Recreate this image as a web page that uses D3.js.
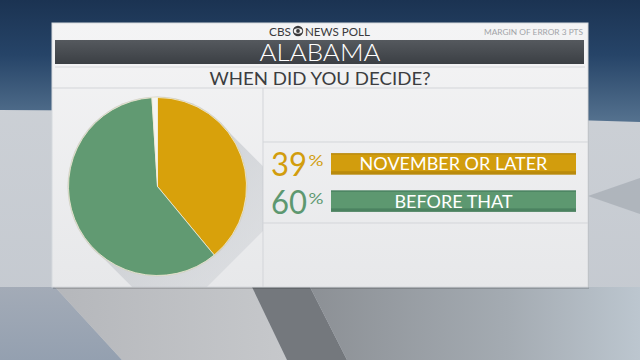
<!DOCTYPE html>
<html>
<head>
<meta charset="utf-8">
<script src="https://cdn.jsdelivr.net/npm/d3@7"></script>
<style>
  html, body { margin: 0; padding: 0; background: #222; }
  svg { display: block; }
</style>
</head>
<body>
<div id="chart"></div>
<script>
// poll values
const categories = ["NOVEMBER OR LATER", "BEFORE THAT"];
const values = [39, 60];
const undecided = 1;
const sliceColors = ["#d8a10b", "#619a72", "#f4f4f2"];
const barColors = ["#d29d0d", "#5d9870"];
const barShade = ["#b98a0c", "#4b8260"];

const W = 640, H = 360;
const svg = d3.select("#chart").append("svg")
    .attr("width", W)
    .attr("height", H);

const defs = svg.append("defs");

function grad(id, stops, x2, y2) {
    const g = defs.append("linearGradient").attr("id", id)
        .attr("x1", 0).attr("y1", 0).attr("x2", x2).attr("y2", y2);
    stops.forEach(s => g.append("stop").attr("offset", s[0]).attr("stop-color", s[1]));
}
const poly = pts => pts.map(p => p.join(",")).join(" ");

// studio background
grad("bg", [["0%", "#cfd3d8"], ["100%", "#c3c8cf"]], 0, 1);
svg.append("rect").attr("width", W).attr("height", H).attr("fill", "url(#bg)");

grad("sky", [["0%", "#1b3352"], ["45%", "#264468"], ["100%", "#55728f"]], 0, 1);
svg.append("polygon")
    .attr("points", poly([[0, 0], [640, 0], [640, 122], [320, 112], [0, 110]]))
    .attr("fill", "url(#sky)");

// right side wedge
svg.append("polygon")
    .attr("points", poly([[588, 196], [640, 178], [640, 214]]))
    .attr("fill", "#a9afb7").attr("opacity", 0.8);

// floor shapes
grad("floorL", [["0%", "#a3abb7"], ["100%", "#94a0b0"]], 0, 1);
grad("floorM", [["0%", "#b5b7bb"], ["100%", "#c6c8cb"]], 1, 0);
grad("floorR", [["0%", "#8c9095"], ["60%", "#a4abb2"], ["100%", "#bcc6cf"]], 1, 0);
const floor = [
    {pts: [[0, 287], [55, 287], [122, 360], [0, 360]], fill: "url(#floorL)"},
    {pts: [[55, 287], [252, 287], [287, 360], [122, 360]], fill: "url(#floorM)"},
    {pts: [[252, 287], [310, 287], [347, 360], [287, 360]], fill: "#74787d"},
    {pts: [[310, 287], [640, 287], [640, 360], [347, 360]], fill: "url(#floorR)"}
];
svg.selectAll(".floor").data(floor).enter().append("polygon")
    .attr("class", "floor")
    .attr("points", d => poly(d.pts))
    .attr("fill", d => d.fill);

// panel
const panel = {x: 52, y: 23, w: 536, h: 264};
grad("panel", [["0%", "#f4f4f5"], ["100%", "#e7e8ea"]], 0, 1);
svg.append("rect")
    .attr("x", panel.x + 1).attr("y", panel.y + 2)
    .attr("width", panel.w).attr("height", panel.h)
    .attr("fill", "#000").attr("opacity", 0.15);
svg.append("rect")
    .attr("x", panel.x).attr("y", panel.y)
    .attr("width", panel.w).attr("height", panel.h)
    .attr("fill", "url(#panel)")
    .attr("stroke", "#d6d9dd");

const font = "Lato, 'Open Sans', sans-serif";

// header: CBS (eye) NEWS POLL
svg.append("text")
    .attr("x", 269).attr("y", 35.5)
    .attr("textLength", 22).attr("lengthAdjust", "spacingAndGlyphs")
    .style("font-family", font)
    .style("font-size", "12px")
    .attr("fill", "#3a3a3c")
    .text("CBS");
const eye = svg.append("g").attr("transform", "translate(298,31)");
eye.append("circle").attr("r", 5.2).attr("fill", "#3a3a3c");
eye.append("ellipse").attr("rx", 4.3).attr("ry", 2.7).attr("fill", "#f2f2f3");
eye.append("circle").attr("r", 1.9).attr("fill", "#3a3a3c");
svg.append("text")
    .attr("x", 305).attr("y", 35.5)
    .attr("textLength", 65).attr("lengthAdjust", "spacingAndGlyphs")
    .style("font-family", font)
    .style("font-size", "12px")
    .attr("fill", "#3a3a3c")
    .text("NEWS POLL");

svg.append("text")
    .attr("x", 583).attr("y", 34.5)
    .attr("text-anchor", "end")
    .attr("textLength", 99).attr("lengthAdjust", "spacingAndGlyphs")
    .style("font-family", font)
    .style("font-size", "8px")
    .attr("fill", "#a2a4a8")
    .text("MARGIN OF ERROR 3 PTS");

// title bar
grad("titlebar", [["0%", "#55595e"], ["100%", "#3b3f44"]], 0, 1);
svg.append("rect")
    .attr("x", 55).attr("y", 40).attr("width", 529).attr("height", 24)
    .attr("fill", "url(#titlebar)");
svg.append("text")
    .attr("x", 320).attr("y", 61)
    .attr("text-anchor", "middle")
    .attr("textLength", 121).attr("lengthAdjust", "spacingAndGlyphs")
    .style("font-family", font)
    .style("font-weight", 300)
    .style("font-size", "23px")
    .attr("fill", "#ffffff")
    .text("ALABAMA");

svg.append("line")
    .attr("x1", 55).attr("x2", 585).attr("y1", 67).attr("y2", 67)
    .attr("stroke", "#d6d8dc");

svg.append("text")
    .attr("x", 320).attr("y", 84.5)
    .attr("text-anchor", "middle")
    .attr("textLength", 221).attr("lengthAdjust", "spacingAndGlyphs")
    .style("font-family", font)
    .style("font-size", "17.5px")
    .attr("fill", "#3c3d40")
    .text("WHEN DID YOU DECIDE?");

// grid lines
const gridStroke = "#d3d5d9";
svg.append("line")
    .attr("x1", 52).attr("x2", 588).attr("y1", 88).attr("y2", 88)
    .attr("stroke", gridStroke);
svg.append("line")
    .attr("x1", 263).attr("x2", 263).attr("y1", 88).attr("y2", 287)
    .attr("stroke", gridStroke);
[142, 223].forEach(y => {
    svg.append("line")
        .attr("x1", 263).attr("x2", 588).attr("y1", y).attr("y2", y)
        .attr("stroke", gridStroke);
});

// pie
const cx = 157.5, cy = 186.5, r = 89;

// long flat shadow down-right
const sh = defs.append("linearGradient").attr("id", "shadow")
    .attr("x1", 0).attr("y1", 0).attr("x2", 1).attr("y2", 1);
sh.append("stop").attr("offset", "0%").attr("stop-color", "#b8bcc2").attr("stop-opacity", 0.8);
sh.append("stop").attr("offset", "100%").attr("stop-color", "#c8ccd1").attr("stop-opacity", 0.2);
const a = Math.PI / 4, off = 75;
const p1 = [cx + r * Math.cos(a - Math.PI / 2), cy + r * Math.sin(a - Math.PI / 2)];
const p2 = [cx + r * Math.cos(a + Math.PI / 2), cy + r * Math.sin(a + Math.PI / 2)];
const clip = defs.append("clipPath").attr("id", "panelclip");
clip.append("rect").attr("x", 52).attr("y", 88).attr("width", 211).attr("height", 199);
svg.append("polygon")
    .attr("clip-path", "url(#panelclip)")
    .attr("points", poly([p1, [p1[0] + off, p1[1] + off], [p2[0] + off, p2[1] + off], p2]))
    .attr("fill", "url(#shadow)");

const pie = d3.pie().sort(null).value(d => d);
const arc = d3.arc().innerRadius(0).outerRadius(r);
const arcs = pie(values.concat([undecided]));

const pieG = svg.append("g").attr("transform", `translate(${cx},${cy})`);
pieG.append("circle").attr("r", r + 1).attr("fill", "#cfcfc8");
pieG.selectAll("path").data(arcs).enter().append("path")
    .attr("d", arc)
    .attr("fill", (d, i) => sliceColors[i])
    .attr("stroke", "#f2ecd6")
    .attr("stroke-width", 0.8);

// legend bars
const y = d3.scaleBand()
    .domain(categories)
    .range([152, 213])
    .paddingInner(0.42)
    .paddingOuter(0.03);
const barX = 331, barW = 245;

const rows = svg.selectAll(".row").data(categories).enter().append("g")
    .attr("class", "row")
    .attr("transform", d => `translate(0,${y(d)})`);

rows.append("rect")
    .attr("x", barX).attr("width", barW)
    .attr("height", y.bandwidth())
    .attr("fill", (d, i) => barShade[i]);
rows.append("rect")
    .attr("x", barX).attr("width", barW)
    .attr("y", 1.5)
    .attr("height", y.bandwidth() - 5)
    .attr("fill", (d, i) => barColors[i]);

rows.append("text")
    .attr("x", barX + barW / 2)
    .attr("y", y.bandwidth() / 2 + 6.5)
    .attr("text-anchor", "middle")
    .style("font-family", font)
    .style("font-size", "18px")
    .attr("fill", "#ffffff")
    .text(d => d);

rows.append("text")
    .attr("x", 307)
    .attr("y", y.bandwidth() / 2 + 12.5)
    .attr("text-anchor", "end")
    .attr("textLength", 36).attr("lengthAdjust", "spacingAndGlyphs")
    .style("font-family", font)
    .style("font-size", "33px")
    .attr("fill", (d, i) => barColors[i])
    .text((d, i) => values[i]);

rows.append("text")
    .attr("x", 308.5)
    .attr("y", y.bandwidth() / 2 + 2.5)
    .attr("textLength", 15).attr("lengthAdjust", "spacingAndGlyphs")
    .style("font-family", font)
    .style("font-size", "16px")
    .attr("fill", (d, i) => barColors[i])
    .text("%");
</script>
</body>
</html>
